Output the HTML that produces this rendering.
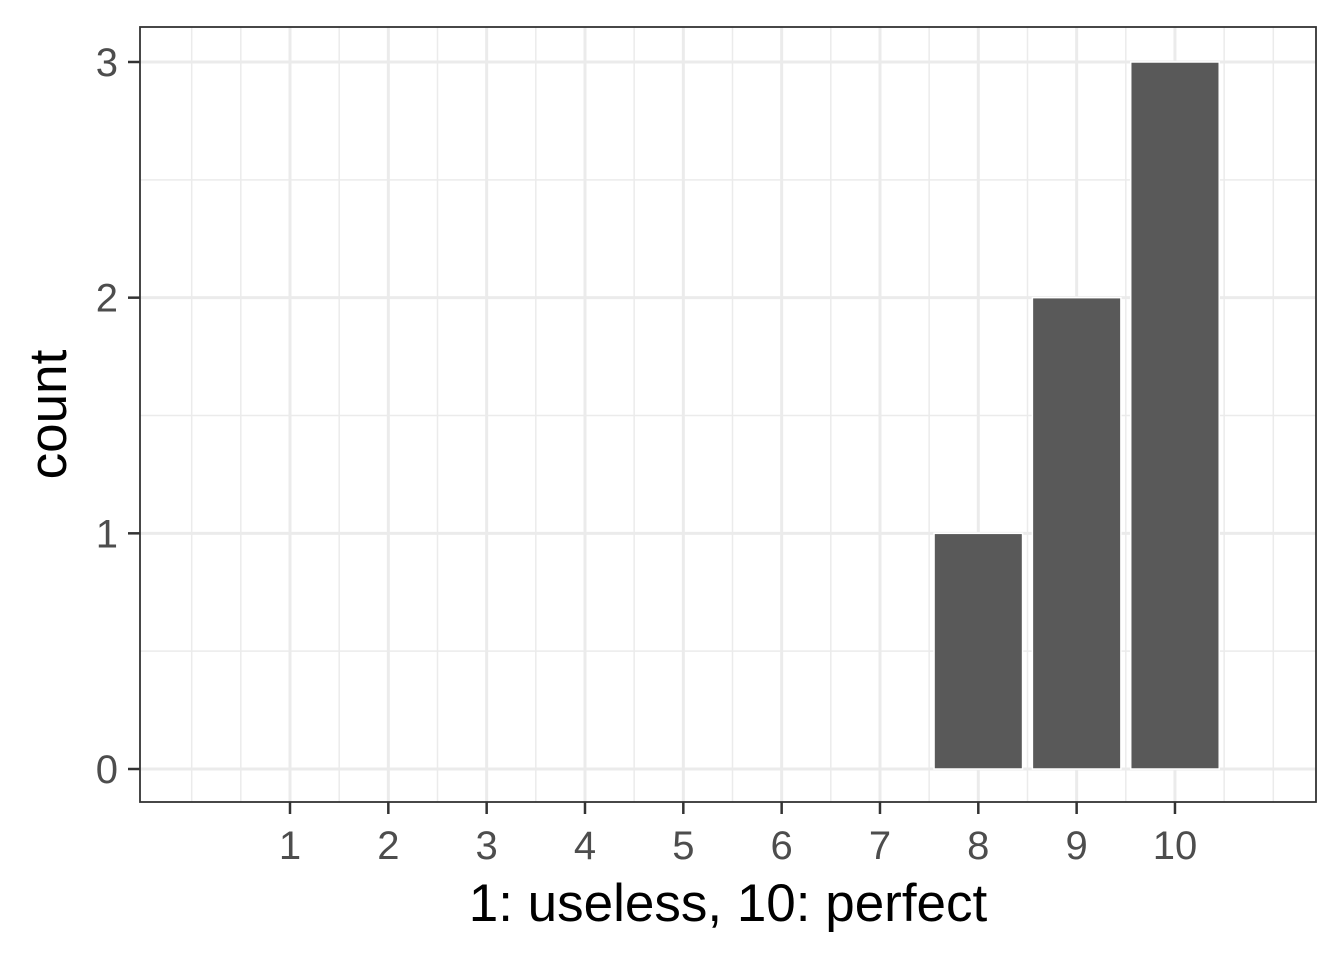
<!DOCTYPE html>
<html><head><meta charset="utf-8"><style>
html,body{margin:0;padding:0;background:#fff;width:1344px;height:960px;overflow:hidden}
text{font-family:"Liberation Sans",sans-serif}
</style></head><body>
<svg id="chart" width="1344" height="960" xmlns="http://www.w3.org/2000/svg"></svg>
<script>
const categories=[1,2,3,4,5,6,7,8,9,10];
const counts=[0,0,0,0,0,0,0,1,2,3];
const yTicks=[0,1,2,3];
const yMinor=[0.5,1.5,2.5];
const xMinor=[0,0.5,1.5,2.5,3.5,4.5,5.5,6.5,7.5,8.5,9.5,10.5,11];

const svg=document.getElementById('chart');
const NS='http://www.w3.org/2000/svg';
const P={l:140,r:1316,t:27,b:802};
const x=v=>290+(v-1)*98.33;
const y=v=>769-v*235.67;
function mk(tag,attrs,parent){const e=document.createElementNS(NS,tag);for(const k in attrs)e.setAttribute(k,attrs[k]);(parent||svg).appendChild(e);return e;}

const bg=mk('rect',{x:P.l,y:P.t,width:P.r-P.l,height:P.b-P.t,fill:'#fff'});


const grid=mk('g',{});


xMinor.forEach(v=>mk('line',{x1:x(v),x2:x(v),y1:P.t,y2:P.b,stroke:'#ebebeb','stroke-width':1.5},grid));
yMinor.forEach(v=>mk('line',{x1:P.l,x2:P.r,y1:y(v),y2:y(v),stroke:'#ebebeb','stroke-width':1.5},grid));
categories.forEach(v=>mk('line',{x1:x(v),x2:x(v),y1:P.t,y2:P.b,stroke:'#ebebeb','stroke-width':3},grid));
yTicks.forEach(v=>mk('line',{x1:P.l,x2:P.r,y1:y(v),y2:y(v),stroke:'#ebebeb','stroke-width':3},grid));

const bars=mk('g',{});


categories.forEach((c,i)=>{
  if(counts[i]<=0)return;
  const r=mk('rect',{x:x(c)-44.25,y:y(counts[i]),width:88.5,height:y(0)-y(counts[i]),fill:'#595959',stroke:'#fff','stroke-width':1.5},bars);
  
  
});

const border=mk('rect',{x:P.l,y:P.t,width:P.r-P.l,height:P.b-P.t,fill:'none',stroke:'#333','stroke-width':1.8});



categories.forEach(c=>{
  mk('line',{x1:x(c),x2:x(c),y1:P.b,y2:P.b+12,stroke:'#333','stroke-width':2.5});
  const t=mk('text',{x:x(c),y:859,'text-anchor':'middle','font-size':40,fill:'#4d4d4d'});
  t.textContent=c;
  
  
});
yTicks.forEach(v=>{
  mk('line',{x1:P.l-12,x2:P.l,y1:y(v),y2:y(v),stroke:'#333','stroke-width':2.5});
  const t=mk('text',{x:P.l-22,y:y(v)+14,'text-anchor':'end','font-size':40,fill:'#4d4d4d'});
  t.textContent=v;
  
  
});
const xt=mk('text',{x:(P.l+P.r)/2,y:921,'text-anchor':'middle','font-size':53,fill:'#000'});
xt.textContent='1: useless, 10: perfect';


const yt=mk('text',{x:0,y:0,'text-anchor':'middle','font-size':53,fill:'#000',transform:'translate(66,'+((P.t+P.b)/2)+') rotate(-90)'});
yt.textContent='count';


</script>
</body></html>
